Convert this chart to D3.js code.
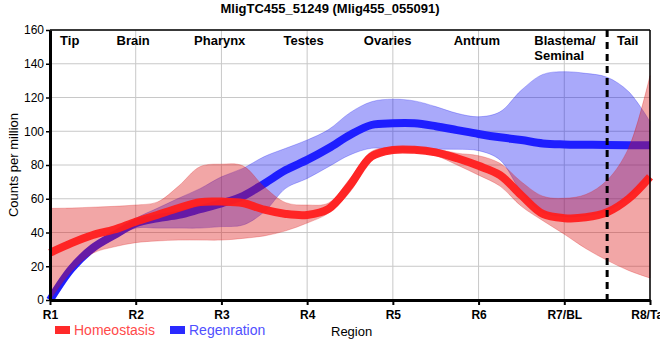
<!DOCTYPE html>
<html><head><meta charset="utf-8">
<script src="https://cdn.jsdelivr.net/npm/d3@7"></script>
<style>body{margin:0;background:#fff}svg{display:block;font-family:"Liberation Sans",Arial,sans-serif}</style>
</head><body><svg id="c" width="660" height="360"></svg>
<script>
const title = "MligTC455_51249 (Mlig455_055091)";
const regions = ["R1","R2","R3","R4","R5","R6","R7/BL","R8/Tail"];
const regionPos = [1,2,3,4,5,6,7,8];
const headers = ["Tip","Brain","Pharynx","Testes","Ovaries","Antrum","Blastema/\nSeminal","Tail"];
const headerPos = [1.23,1.97,2.98,3.96,4.94,5.98,6.65,7.74];
const yTicks = [0,20,40,60,80,100,120,140,160];
const boundaryPos = 7.5;
const samplePos = [1,1.25,1.5,1.75,2,2.25,2.5,2.75,3,3.25,3.5,3.75,4,4.25,4.5,4.75,5,5.25,5.5,5.75,6,6.25,6.5,6.75,7,7.25,7.5,7.75,8];
const homeoMean  = [28,33.7,38.5,41.8,46.4,50.4,54.5,58,58.3,57.5,53.5,51,50.4,54,68,85,88.9,89,87.5,84,79.5,74,62,51,48.5,49,52,60,73];
const homeoUpper = [54.3,54.5,55,55.5,56.3,58,67.5,79,80.5,79.5,67,57.7,56.3,57.5,72,88,90.5,90.5,89.5,87,85.5,81,70,61.5,60.3,62.5,71,90,133];
const homeoLower = [0,17,27.7,31.5,34,35,35.5,35.5,35.5,36.5,38,41,45.6,51.5,64,82.5,87.5,87.5,85.5,80,74,67.5,55.5,47,39,30.5,23.5,17.5,13];
const regenMean  = [0,18.5,30.8,38.5,45.4,48.4,50.4,53.8,57.3,61.6,69,77,83,89.9,97.8,103.7,104.7,104.7,103,100.7,98.4,96.4,94.8,92.8,92.2,92,91.8,91.7,91.7];
const regenUpper = [3,21,33,40.5,48.4,54.3,60.3,66,73,78,85,89.9,94.8,101,111,117.5,119,118,114.6,110.6,108.6,111.5,124.4,133.7,135.3,134.3,132,123.5,105.7];
const regenLower = [0,16,28.5,36.5,42.6,42.6,42.6,42.6,43.5,44.4,52.3,66.2,72,79,86,89.9,89.3,89.3,89.3,89.3,88.5,83,64,52,49.5,50,53,61,74];
const seriesNames = ["Homeostasis","Regenration"];

const svg = d3.select("#c");
const L=50,R=650,T=30,B=300;
const x = d3.scaleLinear().domain([1,8]).range([L,R]);
const y = d3.scaleLinear().domain([0,160]).range([B,T]);

// grid
svg.append("g").selectAll("line").data(yTicks).join("line")
  .attr("x1",L).attr("x2",R).attr("y1",d=>y(d)).attr("y2",d=>y(d))
  .attr("stroke","#c8c8c8").attr("stroke-width",1);
svg.append("g").selectAll("line").data(regionPos).join("line")
  .attr("x1",d=>x(d)).attr("x2",d=>x(d)).attr("y1",T).attr("y2",B)
  .attr("stroke","#c8c8c8").attr("stroke-width",1);

const cur = d3.curveCatmullRom.alpha(0.5);
function band(up, lo){
  return d3.area().x((d,i)=>x(samplePos[i])).y0((d,i)=>y(lo[i])).y1((d,i)=>y(up[i])).curve(cur)(samplePos);
}
function line(v){
  return d3.line().x((d,i)=>x(samplePos[i])).y((d,i)=>y(v[i])).curve(cur)(samplePos);
}
svg.append("path").attr("d",band(regenUpper,regenLower))
  .attr("fill","rgba(10,10,240,0.35)").attr("stroke","rgba(10,10,240,0.25)").attr("stroke-width",1);
svg.append("path").attr("d",line(regenMean)).attr("fill","none")
  .attr("stroke","#1e1eff").attr("stroke-width",8);
svg.append("path").attr("d",band(homeoUpper,homeoLower))
  .attr("fill","rgba(220,20,20,0.38)").attr("stroke","rgba(220,20,20,0.25)").attr("stroke-width",1);
svg.append("path").attr("d",line(homeoMean)).attr("fill","none")
  .attr("stroke","#ff1e1e").attr("stroke-width",8).attr("stroke-opacity",0.95);

// borders
svg.append("line").attr("x1",L).attr("x2",R).attr("y1",T).attr("y2",T).attr("stroke","#000").attr("stroke-width",1.5);
svg.append("line").attr("x1",R).attr("x2",R).attr("y1",T).attr("y2",B).attr("stroke","#000").attr("stroke-width",1.5);

// dashed boundary
svg.append("line").attr("x1",x(boundaryPos)).attr("x2",x(boundaryPos)).attr("y1",T).attr("y2",B+4)
  .attr("stroke","#000").attr("stroke-width",3).attr("stroke-dasharray","7,5");

// axes
const xAxis = d3.axisBottom(x).tickValues(regionPos).tickFormat((d,i)=>regions[i]).tickSize(5).tickSizeOuter(0);
const gx = svg.append("g").attr("transform",`translate(0,${B})`).call(xAxis);
gx.select(".domain").attr("stroke","#000").attr("stroke-width",3);
gx.selectAll(".tick line").attr("stroke","#000").attr("stroke-width",2);
gx.selectAll("text").attr("font-size",12).attr("font-weight","bold").attr("fill","#000").attr("dy","0.9em");

const yAxis = d3.axisLeft(y).tickValues(yTicks).tickSize(4).tickSizeOuter(0);
const gy = svg.append("g").attr("transform",`translate(${L},0)`).call(yAxis);
gy.select(".domain").attr("stroke","#000").attr("stroke-width",3);
gy.selectAll(".tick line").attr("stroke","#000").attr("stroke-width",1.5);
gy.selectAll("text").attr("font-size",12).attr("fill","#000").attr("x",-6);

// headers
const hg = svg.append("g").attr("font-size",13).attr("font-weight","bold").attr("fill","#000");
headers.forEach((h,i)=>{
  const parts = h.split("\n");
  const t = hg.append("text").attr("x",x(headerPos[i])).attr("y",45)
    .attr("text-anchor", parts.length>1 ? "start" : "middle");
  parts.forEach((p,j)=>t.append("tspan").attr("x",x(headerPos[i])).attr("dy", j?15:0).text(p));
});

// title
svg.append("text").attr("x",330).attr("y",13).attr("text-anchor","middle")
  .attr("font-size",13).attr("font-weight","bold").text(title);

// y label
svg.append("text").attr("transform","translate(18,165) rotate(-90)").attr("text-anchor","middle")
  .attr("font-size",13).text("Counts per million");

// x label
svg.append("text").attr("x",331).attr("y",336).attr("font-size",13).text("Region");

// legend
const legCol = ["#ff2a2a","#2a2aff"], legText = ["#ff4a4a","#5050ff"], legX = [55,170];
seriesNames.forEach((n,i)=>{
  svg.append("rect").attr("x",legX[i]).attr("y",326).attr("width",15).attr("height",8).attr("fill",legCol[i]);
  svg.append("text").attr("x",legX[i]+19).attr("y",335).attr("font-size",14).attr("fill",legText[i]).text(n);
});
</script></body></html>
